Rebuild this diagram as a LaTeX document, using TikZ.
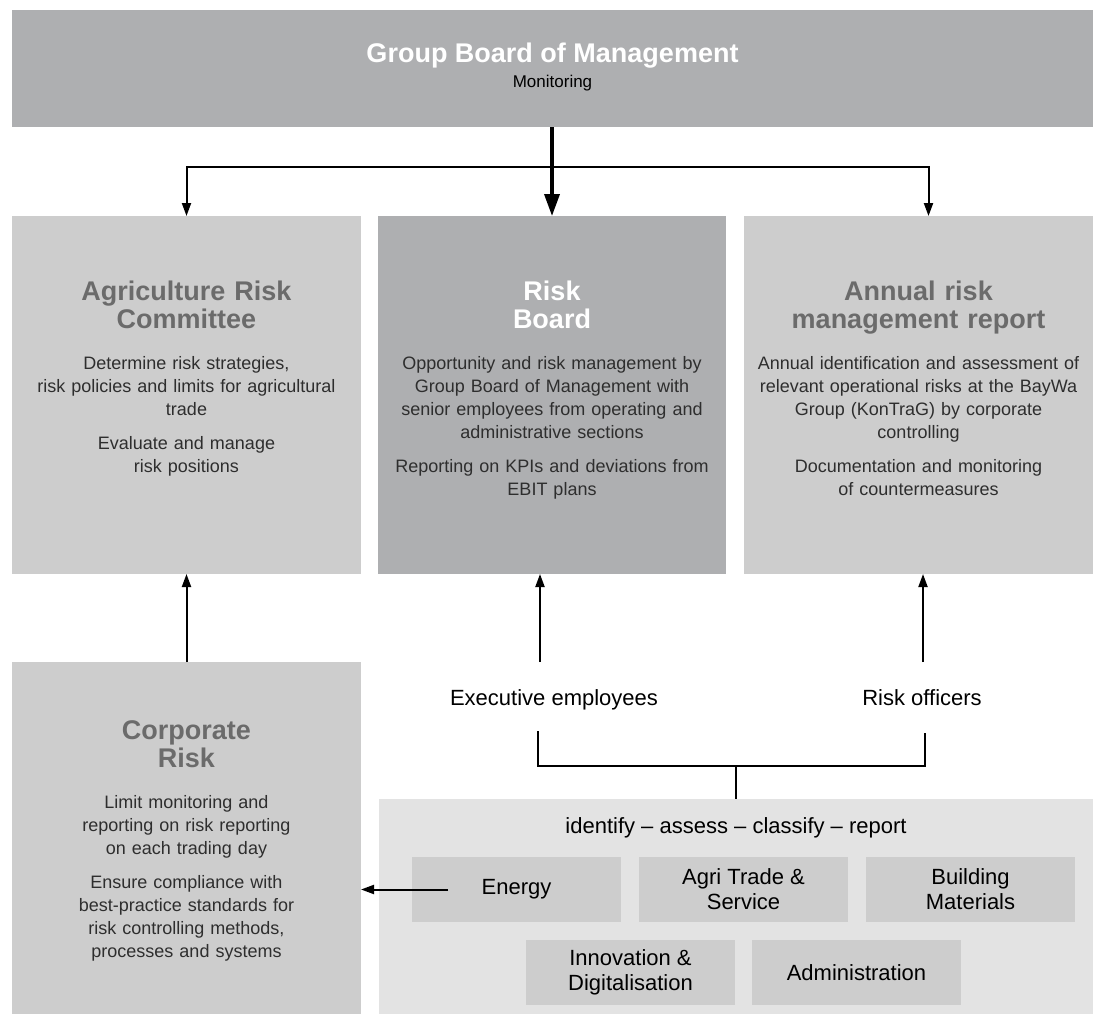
\documentclass[tikz,border=0pt]{standalone}
\usepackage{fontspec}
\setmainfont{Liberation Sans}
\usetikzlibrary{arrows.meta}
\definecolor{boardgray}{HTML}{AEAFB1}
\definecolor{panelgray}{HTML}{CDCDCD}
\definecolor{basegray}{HTML}{E3E3E3}
\definecolor{titlegray}{HTML}{6B6B6B}
\definecolor{bodytext}{HTML}{2E2E2E}
\begin{document}
\begin{tikzpicture}[x=1pt,y=-1pt]
        \tikzstyle{box}=[rectangle, inner sep=0pt, outer sep=0pt, anchor=north west]
        \tikzstyle{panel}=[box, fill=panelgray, minimum width=349pt, minimum height=358pt]
        \tikzstyle{unit}=[box, fill=panelgray, minimum width=209pt, minimum height=65pt, align=center, font=\fontsize{22}{25}\selectfont, text=black]
        \tikzstyle{headline}=[anchor=base, inner sep=0pt, text width=340pt, align=center, font=\bfseries\fontsize{27}{28}\selectfont, text=titlegray]
        \tikzstyle{body}=[anchor=base, inner sep=0pt, text width=340pt, align=center, font=\fontsize{18}{23}\selectfont, text=bodytext]
        \tikzstyle{label}=[anchor=base, inner sep=0pt, font=\fontsize{22}{25}\selectfont, text=black]
        \tikzstyle{thinarrow}=[line width=2pt, -{Triangle[length=13pt,width=9pt]}]
        \tikzstyle{mainarrow}=[line width=3.5pt, -{Triangle[length=22pt,width=15pt]}]
        \useasboundingbox (0,0) rectangle (1099,1014);
        \node[box, fill=boardgray, minimum width=1081pt, minimum height=117pt] (gbm) at (12,10) {};
        \node[anchor=base, inner sep=0pt, font=\bfseries\fontsize{27}{28}\selectfont, text=white] (gbm-title) at (552.5,63) {Group Board of Management};
        \node[anchor=base, inner sep=0pt, font=\fontsize{17}{20}\selectfont, text=black] (gbm-sub) at (552.5,88) {Monitoring};

        \node[panel] (agri) at (12,216) {};
        \node[panel, fill=boardgray, minimum width=348pt] (rb) at (378,216) {};
        \node[panel] (annual) at (744,216) {};
        \node[panel, minimum height=352pt] (corp) at (12,662) {};

        \node[headline] (agri-title) at (186.5,300) {Agriculture Risk\\Committee};
        \node[body] (agri-p1) at (186.5,369) {Determine risk strategies,\\risk policies and limits for agricultural\\trade};
        \node[body] (agri-p2) at (186.5,449) {Evaluate and manage\\risk positions};

        \node[headline, text=white] (rb-title) at (552,300) {Risk\\Board};
        \node[body] (rb-p1) at (552,369) {Opportunity and risk management by\\Group Board of Management with\\senior employees from operating and\\administrative sections};
        \node[body] (rb-p2) at (552,472) {Reporting on KPIs and deviations from\\EBIT plans};

        \node[headline] (annual-title) at (918.5,300) {Annual risk\\management report};
        \node[body] (annual-p1) at (918.5,369) {Annual identification and assessment of\\relevant operational risks at the BayWa\\Group (KonTraG) by corporate\\controlling};
        \node[body] (annual-p2) at (918.5,472) {Documentation and monitoring\\of countermeasures};

        \node[headline] (corp-title) at (186.5,739) {Corporate\\Risk};
        \node[body] (corp-p1) at (186.5,808) {Limit monitoring and\\reporting on risk reporting\\on each trading day};
        \node[body] (corp-p2) at (186.5,888) {Ensure compliance with\\best-practice standards for\\risk controlling methods,\\processes and systems};

        \node[label] (exec) at (554,705) {Executive employees};
        \node[label] (officers) at (922,705) {Risk officers};

        \node[box, fill=basegray, minimum width=714pt, minimum height=215pt] (base) at (379,799) {};
        \node[label] (steps) at (736,833) {identify -- assess -- classify -- report};
        \node[unit] (energy) at (412,857) {Energy};
        \node[unit] (agritrade) at (639,857) {Agri Trade \&\\Service};
        \node[unit] (building) at (866,857) {Building\\Materials};
        \node[unit] (innovation) at (526,940) {Innovation \&\\Digitalisation};
        \node[unit] (admin) at (752,940) {Administration};

        \coordinate (fork) at (552,167);
        \draw[mainarrow] (gbm.south -| rb.north) -- (rb.north);
        \draw[thinarrow] (fork) -| (agri.north);
        \draw[thinarrow] (fork) -| ([xshift=10pt]annual.north);
        \draw[thinarrow] (corp.north) -- (agri.south);
        \coordinate (exec-up) at (540,662);
        \coordinate (officers-up) at (923,662);
        \draw[thinarrow] (exec-up) -- (exec-up |- rb.south);
        \draw[thinarrow] (officers-up) -- (officers-up |- annual.south);
        \coordinate (br-left) at (538,731);
        \coordinate (br-right) at (925,733);
        \coordinate (br-mid) at (736,766);
        \draw[line width=2pt] (br-left) |- (br-mid) -| (br-right);
        \draw[line width=2pt] (br-mid) -- (base.north);
        \draw[thinarrow] ([xshift=36pt]energy.west) -- (energy.west -| corp.east);
\end{tikzpicture}
\end{document}
